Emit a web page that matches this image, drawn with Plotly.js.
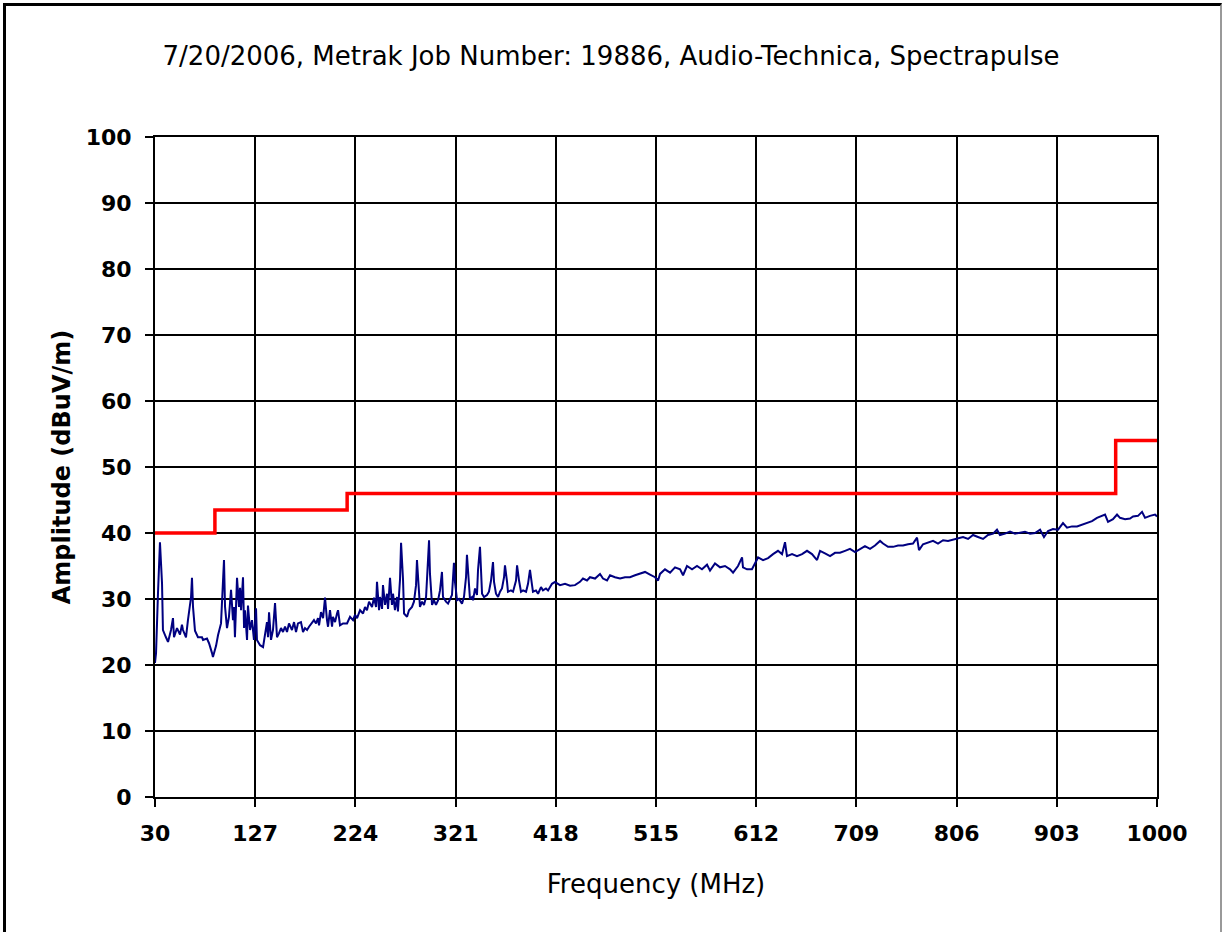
<!DOCTYPE html>
<html>
<head>
<meta charset="utf-8">
<script src="https://cdn.plot.ly/plotly-3.0.1.min.js"></script>
<style>
  html, body { margin: 0; padding: 0; background: #fff; }
  #chart { width: 1222px; height: 932px; }
  #frame { position: absolute; left: 3px; top: 3px; width: 1214px; height: 940px;
           border-left: 3px solid #000; border-top: 3px solid #000; border-right: 2px solid #999;
           pointer-events: none; }
</style>
</head>
<body>
<div id="chart"></div>
<div id="frame"></div>
<script>
// Measured emission (MHz, dBuV/m)
const freqMHz = [
  30.0, 31.0, 32.9, 34.8, 36.8, 37.7, 40.6, 42.6, 45.5, 47.4, 48.4, 51.3, 54.2, 56.1, 57.1, 60.0,
  61.9, 64.9, 65.8, 66.8, 68.7, 71.6, 75.5, 76.5, 80.3, 82.3, 85.2, 86.1, 89.1, 91.0, 93.9, 95.8,
  96.8, 97.8, 99.7, 101.6, 103.6, 105.5, 106.5, 107.4, 109.4, 111.3, 112.3, 113.3, 115.2, 116.2,
  117.1, 119.1, 120.0, 122.0, 123.9, 125.8, 127.8, 128.7, 131.7, 134.6, 136.5, 138.4, 139.4, 140.4,
  142.3, 144.2, 146.2, 148.1, 150.0, 152.0, 153.9, 155.9, 157.8, 159.7, 162.6, 164.6, 166.5, 168.4,
  171.3, 173.3, 175.2, 177.2, 179.1, 182.0, 183.9, 185.9, 187.8, 188.8, 190.7, 192.7, 193.6, 194.6,
  196.5, 197.5, 199.4, 201.4, 202.3, 204.3, 206.2, 207.2, 209.1, 212.0, 215.9, 218.8, 221.7, 223.6,
  225.6, 228.5, 231.4, 233.3, 235.2, 237.2, 240.1, 242.0, 244.0, 244.9, 246.9, 247.8, 249.8, 250.7,
  252.7, 254.6, 255.6, 257.5, 259.4, 260.4, 262.3, 264.3, 265.2, 267.2, 268.2, 270.1, 271.1, 274.0,
  275.9, 278.8, 280.7, 282.7, 283.6, 285.6, 286.5, 288.5, 290.4, 292.4, 293.3, 295.3, 296.2, 298.2,
  300.1, 302.0, 304.0, 305.9, 307.8, 308.8, 311.7, 313.7, 317.5, 318.5, 319.4, 320.4, 322.4, 324.3,
  327.2, 329.1, 331.1, 332.0, 334.0, 334.9, 336.9, 337.9, 339.8, 341.7, 342.7, 344.6, 345.6, 346.6,
  348.5, 351.4, 353.3, 355.3, 357.2, 358.2, 360.1, 362.1, 364.0, 365.9, 367.9, 368.8, 370.8, 371.7,
  374.6, 376.6, 379.5, 380.5, 382.4, 384.3, 386.3, 389.2, 391.1, 393.0, 395.0, 395.9, 398.8, 400.8,
  403.7, 405.6, 408.5, 410.5, 414.3, 417.2, 420.1, 422.1, 426.9, 431.8, 436.6, 441.4, 444.3, 448.2,
  451.1, 456.0, 460.8, 463.7, 467.6, 470.5, 475.3, 480.2, 485.0, 489.8, 494.7, 499.5, 504.4, 509.2,
  514.1, 517.0, 518.9, 523.7, 528.6, 533.4, 538.3, 541.2, 545.0, 549.9, 554.7, 559.5, 564.4, 567.3,
  572.1, 577.0, 581.8, 586.7, 589.6, 594.4, 598.3, 599.2, 603.1, 607.9, 610.9, 613.8, 618.6, 623.5,
  628.3, 633.1, 637.0, 639.9, 641.8, 646.7, 651.5, 656.4, 661.2, 666.0, 670.9, 673.8, 678.6, 683.5,
  688.3, 693.1, 698.0, 702.8, 707.7, 712.5, 717.3, 722.2, 727.0, 731.9, 734.8, 739.6, 744.5, 749.3,
  754.1, 759.0, 763.8, 767.7, 769.6, 773.5, 778.3, 783.2, 788.0, 792.9, 797.7, 802.5, 807.4, 812.2,
  817.1, 821.9, 826.7, 831.6, 836.4, 841.3, 845.1, 848.0, 852.9, 857.7, 862.6, 867.4, 872.2, 877.1,
  881.9, 886.8, 890.6, 894.5, 899.3, 904.2, 909.0, 912.9, 917.7, 922.6, 927.4, 932.3, 937.1, 941.9,
  946.8, 949.7, 952.6, 957.4, 961.3, 964.2, 969.1, 973.9, 976.8, 981.6, 985.5, 988.4, 993.2, 998.1, 1000.0
];
const amplitude = [
  20.3, 21.8, 30.9, 38.6, 32.4, 25.3, 24.2, 23.5, 25.3, 27.1, 24.2, 25.6, 24.6, 26.1, 25.3, 24.2,
  26.8, 30.3, 33.2, 28.8, 25.2, 24.2, 24.2, 23.8, 24.0, 23.3, 21.8, 21.2, 22.9, 24.5, 26.3, 31.7,
  35.9, 28.8, 25.6, 27.3, 31.4, 26.8, 28.8, 24.2, 33.2, 28.8, 31.7, 28.3, 33.3, 25.6,
  28.3, 23.8, 29.0, 25.3, 26.8, 23.8, 28.6, 23.8, 23.0, 22.7, 24.8, 26.5, 24.2, 28.0,
  23.8, 25.3, 29.4, 24.2, 24.8, 25.6, 25.0, 25.8, 25.0, 26.3, 25.3, 26.5, 25.0, 26.3,
  26.5, 25.0, 25.6, 25.3, 25.8, 26.5, 26.8, 26.3, 27.1, 26.0, 28.0, 27.1, 28.3, 30.2,
  26.8, 25.8, 28.3, 25.8, 27.3, 26.5, 27.8, 28.3, 26.0, 26.3, 26.3, 27.3, 26.8, 27.6,
  27.1, 28.3, 27.8, 28.8, 28.3, 29.6, 28.8, 30.2, 28.8, 32.6, 28.3, 30.3, 28.5, 32.1,
  29.1, 30.8, 28.5, 33.2, 29.1, 30.8, 28.3, 30.3, 28.1, 33.0, 38.5, 33.0, 27.8, 27.3,
  28.3, 28.8, 29.6, 32.1, 35.9, 31.8, 28.8, 29.6, 29.1, 30.3, 33.8, 38.9, 33.8, 29.1,
  29.8, 29.1, 29.8, 31.3, 34.1, 30.3, 29.6, 29.3, 30.6, 32.6, 35.5, 32.6, 29.8, 30.0,
  29.3, 30.3, 33.3, 36.7, 32.8, 30.0, 30.3, 29.8, 31.6, 30.6, 34.4, 37.9, 34.4, 30.8,
  30.3, 30.6, 31.1, 32.8, 35.6, 32.6, 30.8, 30.3, 31.1, 31.6, 33.3, 35.1, 32.6, 31.1,
  31.3, 31.1, 32.8, 35.1, 32.8, 31.1, 31.3, 31.1, 32.3, 34.4, 32.1, 31.1, 31.3, 30.8,
  31.8, 31.3, 31.6, 31.3, 32.3, 32.6, 32.3, 32.1, 32.3, 32.0, 32.1, 32.6, 33.1, 32.8,
  33.3, 33.1, 33.8, 33.1, 32.8, 33.6, 33.3, 33.1, 33.3, 33.3, 33.6, 33.8, 34.1, 33.7,
  33.3, 32.8, 33.8, 34.5, 34.0, 34.8, 34.5, 33.6, 35.0, 34.5, 35.0, 34.5, 35.2, 34.3,
  35.4, 34.8, 35.0, 34.5, 34.0, 35.0, 36.3, 34.8, 34.5, 34.5, 35.5, 36.3, 35.9, 36.2,
  36.8, 37.3, 36.8, 38.6, 36.5, 36.8, 36.5, 36.8, 37.3, 36.8, 35.9, 37.3, 36.9, 36.5,
  37.0, 37.0, 37.3, 37.6, 37.1, 37.6, 38.0, 37.6, 38.1, 38.8, 38.4, 37.9, 37.9, 38.1,
  38.1, 38.3, 38.4, 39.3, 37.4, 38.3, 38.6, 38.8, 38.4, 38.9, 38.8, 39.0, 39.1, 39.4,
  39.1, 39.7, 39.4, 39.1, 39.7, 39.9, 40.5, 39.7, 39.9, 40.2, 39.9, 40.0, 40.2, 39.9,
  40.0, 40.5, 39.4, 40.3, 40.6, 40.5, 41.5, 40.8, 41.0, 41.0, 41.3, 41.5, 41.8, 42.3,
  42.6, 42.8, 41.7, 42.1, 42.8, 42.3, 42.1, 42.2, 42.5, 42.6, 43.2, 42.3, 42.6, 42.8, 42.5
];
// Limit line (step)
const limitFreq = [30, 88, 216, 960, 1000];
const limitAmp  = [40, 43.5, 46, 54, 54];
// Axis ticks
const xTicks = [30, 127, 224, 321, 418, 515, 612, 709, 806, 903, 1000];
const yTicks = [0, 10, 20, 30, 40, 50, 60, 70, 80, 90, 100];

const traces = [
  { x: freqMHz, y: amplitude, type: 'scatter', mode: 'lines',
    line: { color: '#000080', width: 2 }, hoverinfo: 'skip' },
  { x: limitFreq, y: limitAmp, type: 'scatter', mode: 'lines',
    line: { color: '#FF0000', width: 3.5, shape: 'hv' }, hoverinfo: 'skip' }
];

const fontFam = 'DejaVu Sans, Verdana, sans-serif';
const layout = {
  width: 1222, height: 932,
  paper_bgcolor: '#fff', plot_bgcolor: '#fff',
  margin: { l: 155, r: 65, t: 137, b: 135 },
  showlegend: false,
  title: { text: '7/20/2006, Metrak Job Number: 19886, Audio-Technica, Spectrapulse',
           x: 0.5, xref: 'container', y: 0.94, yref: 'container', xanchor: 'center', yanchor: 'middle',
           font: { family: fontFam, size: 26, color: '#000' } },
  xaxis: {
    range: [30, 1000], tickmode: 'array', tickvals: xTicks, ticktext: xTicks.map(String),
    showgrid: true, gridcolor: '#000', gridwidth: 2,
    showline: true, linecolor: '#000', linewidth: 2, mirror: true,
    ticks: 'outside', ticklen: 8, tickwidth: 2, tickcolor: '#000',
    ticklabelstandoff: 8,
    zeroline: false,
    tickfont: { family: fontFam, size: 22, color: '#000', weight: 'bold' },
    title: { text: 'Frequency (MHz)', standoff: 29, font: { family: fontFam, size: 26, color: '#000' } }
  },
  yaxis: {
    range: [0, 100], tickmode: 'array', tickvals: yTicks, ticktext: yTicks.map(String),
    showgrid: true, gridcolor: '#000', gridwidth: 2,
    showline: true, linecolor: '#000', linewidth: 2, mirror: true,
    ticks: 'outside', ticklen: 8, tickwidth: 2, tickcolor: '#000',
    ticklabelstandoff: 9,
    zeroline: false,
    tickfont: { family: fontFam, size: 22, color: '#000', weight: 'bold' },
    title: { text: 'Amplitude (dBuV/m)', standoff: 8, font: { family: fontFam, size: 24, color: '#000', weight: 'bold' } }
  }
};

Plotly.newPlot('chart', traces, layout, { staticPlot: true, displayModeBar: false });
</script>
</body>
</html>
